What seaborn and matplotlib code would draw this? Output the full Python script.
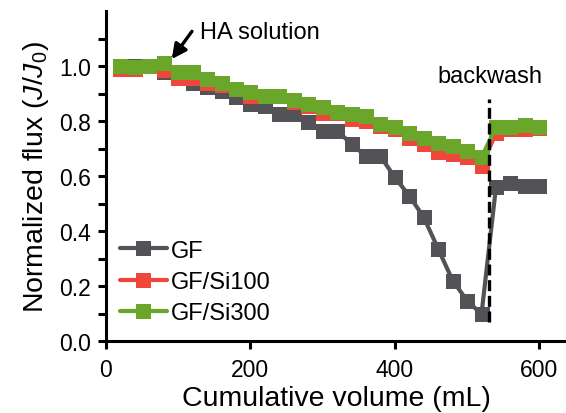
import numpy as np
import pandas as pd
import matplotlib
matplotlib.use("Agg")
import matplotlib.pyplot as plt
import seaborn as sns

volume = [20, 40, 60, 80, 100, 120, 140, 160, 180, 200, 220, 240, 260, 280, 300,
          320, 340, 360, 380, 400, 420, 440, 460, 480, 500, 520, 540, 560, 580, 600]
gf = [1.00, 1.00, 1.00, 0.98, 0.955, 0.94, 0.922, 0.91, 0.886, 0.862, 0.856, 0.825, 0.825, 0.798, 0.765,
      0.765, 0.716, 0.672, 0.672, 0.595, 0.528, 0.45, 0.335, 0.22, 0.147, 0.098, 0.559, 0.575, 0.565, 0.564]
gf_si100 = [0.99, 0.99, 1.00, 0.985, 0.955, 0.958, 0.94, 0.93, 0.915, 0.89, 0.89, 0.89, 0.87, 0.856, 0.83,
            0.83, 0.807, 0.80, 0.783, 0.77, 0.74, 0.716, 0.686, 0.68, 0.668, 0.637, 0.755, 0.77, 0.772, 0.775]
gf_si300 = [1.00, 0.995, 1.00, 1.01, 0.977, 0.977, 0.953, 0.94, 0.916, 0.907, 0.892, 0.89, 0.876, 0.862, 0.85,
            0.834, 0.825, 0.82, 0.789, 0.78, 0.755, 0.737, 0.72, 0.71, 0.692, 0.668, 0.777, 0.78, 0.785, 0.78]
series_names = ["GF", "GF/Si100", "GF/Si300"]
colors = ["#525257", "#f0463c", "#6aa62a"]
backwash_x = 530

sns.set_style("ticks")
plt.rcParams["font.family"] = ["Liberation Sans", "DejaVu Sans"]
plt.rcParams["mathtext.fontset"] = "custom"
plt.rcParams["mathtext.rm"] = "Liberation Sans"
plt.rcParams["mathtext.it"] = "Liberation Sans:italic"
for k in ["text.color", "axes.labelcolor", "xtick.color", "ytick.color", "axes.edgecolor"]:
    plt.rcParams[k] = "black"

fig = plt.figure(figsize=(5.66, 4.14), dpi=100)
ax = fig.add_axes([106/566, 72/414, 460/566, 330/414])

for name, vals, col in zip(series_names, [gf, gf_si100, gf_si300], colors):
    df = pd.DataFrame({"volume": volume, "flux": vals})
    sns.lineplot(data=df, x="volume", y="flux", ax=ax, color=col, marker="s",
                 markersize=10.8, markeredgewidth=0, linewidth=3, label=name)

ax.vlines(backwash_x, 0.07, 0.88, colors="black", linestyles=(0, (3.3, 1.4)), linewidth=2.4, zorder=5)

ax.set_xlim(0, 637)
ax.set_ylim(0, 1.2)
ax.set_xticks([0, 200, 400, 600])
ax.set_yticks([0.0, 0.2, 0.4, 0.6, 0.8, 1.0])
ax.set_yticks(np.arange(0.1, 1.2, 0.2), minor=True)
ax.set_yticklabels(["0.0", "0.2", "0.4", "0.6", "0.8", "1.0"])
ax.tick_params(axis="both", which="major", labelsize=16.5, width=2.2, length=6, direction="out", color="black", pad=5)
ax.tick_params(axis="x", which="major", pad=6.5)
ax.tick_params(axis="y", which="minor", width=2.2, length=6, direction="out", color="black")
for s in ["left", "bottom"]:
    ax.spines[s].set_linewidth(2.2)
    ax.spines[s].set_color("black")
for s in ["top", "right"]:
    ax.spines[s].set_visible(False)

ax.set_xlabel("Cumulative volume (mL)", fontsize=20.5, labelpad=2.5)
ax.set_ylabel(r"Normalized flux ($J/J_0$)", fontsize=20.5, labelpad=6)

ax.text(532, 0.965, "backwash", fontsize=17, ha="center", va="center")
ax.text(130, 1.124, "HA solution", fontsize=17, ha="left", va="center")
ax.annotate("", xy=(91, 1.025), xytext=(119, 1.126),
            arrowprops=dict(arrowstyle="-|>", color="black", lw=2.4, mutation_scale=22, shrinkA=0, shrinkB=0))

leg = ax.legend(loc="lower left", bbox_to_anchor=(0.03, 0.05), frameon=False, fontsize=17,
                handlelength=2.0, handletextpad=0.15, labelspacing=0.4, borderaxespad=0, borderpad=0)

fig.savefig("out.png", dpi=100)
